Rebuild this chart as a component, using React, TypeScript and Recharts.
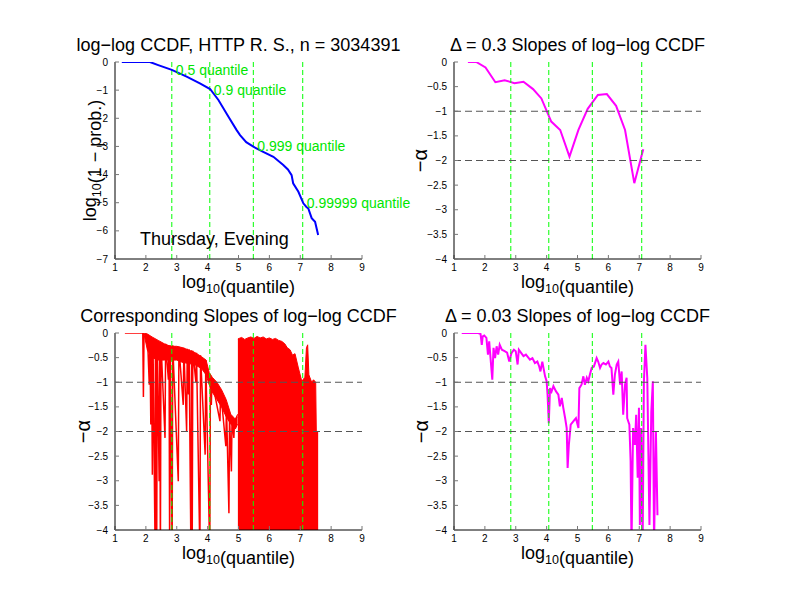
import { ComposedChart, Line, Area, XAxis, YAxis, ReferenceLine, ReferenceDot } from 'recharts';

const W = 792;
const H = 612;
const FONT = '"Liberation Sans", Arial, Helvetica, sans-serif';

const xTicks = [1, 2, 3, 4, 5, 6, 7, 8, 9];
const ccdfTicks = [0, -1, -2, -3, -4, -5, -6, -7];
const slopeTicks = [0, -0.5, -1, -1.5, -2, -2.5, -3, -3.5, -4];

// quantile markers (x = log10 of the quantile, y = log10(1 - p))
const quantileX = [2.84, 4.07, 5.48, 7.08];
const quantileY = [-0.3, -1, -3, -5];
const quantileNames = ['0.5 quantile', '0.9 quantile', '0.999 quantile', '0.99999 quantile'];
const alphaGuides = [-1, -2];

// log-log CCDF
const ccdf: [number, number][] = [
  [1.22, 0], [1.6, 0], [2.13, 0], [2.4, -0.11], [2.84, -0.28], [3.32, -0.52], [3.75, -0.76],
  [4.08, -0.96], [4.35, -1.35], [4.67, -1.94], [4.94, -2.42], [5.05, -2.6], [5.25, -2.85],
  [5.48, -3.01], [5.8, -3.19], [6.13, -3.37], [6.45, -3.66], [6.6, -3.82], [6.72, -4.02],
  [6.77, -4.31], [6.94, -4.61], [7.1, -5.02], [7.2, -5.15], [7.26, -5.2], [7.37, -5.55],
  [7.48, -5.68], [7.58, -6.15],
];

// delta = 0.3 slopes
const slopeCoarse: [number, number][] = [
  [1.45, 0], [1.72, 0], [2.02, -0.11], [2.34, -0.41], [2.64, -0.37], [2.96, -0.43], [3.25, -0.4],
  [3.56, -0.55], [3.83, -0.74], [4.15, -1.21], [4.44, -1.38], [4.74, -1.92], [5.03, -1.38],
  [5.33, -0.95], [5.66, -0.67], [5.95, -0.65], [6.25, -0.89], [6.54, -1.38], [6.84, -2.46],
  [7.13, -1.77],
];

// corresponding (point-wise) slopes: spikes, thick body, dense block
const slopeSpikes: [number, number][] = [
  [1.32, 0], [1.9, 0], [1.92, -1.3], [1.94, -0.02], [2.05, -0.05], [2.11, -1.05], [2.13, -0.1],
  [2.16, -1.86], [2.18, -0.1], [2.21, -2.88], [2.23, -0.12], [2.3, -4.5], [2.31, -0.15],
  [2.32, -1.93], [2.34, -0.15], [2.35, -4.5], [2.37, -0.18], [2.43, -3.01], [2.45, -0.2],
  [2.47, -4.5], [2.49, -0.2], [2.62, -2.13], [2.64, -0.22], [2.73, -0.95], [2.75, -0.25],
  [2.77, -4.5], [2.79, -0.25], [2.85, -4.5], [2.87, -0.25], [3.05, -3.01], [3.07, -0.28],
  [3.21, -1.46], [3.23, -0.3], [3.32, -2.0], [3.34, -0.32], [3.38, -1.25], [3.4, -0.33],
  [3.46, -4.5], [3.48, -0.35], [3.5, -4.5], [3.52, -0.36], [3.62, -1.0], [3.64, -0.4],
  [3.75, -4.5], [3.77, -0.45], [3.92, -2.47], [3.94, -0.55], [4.07, -4.5], [4.09, -0.85],
  [4.12, -1.46], [4.14, -0.95], [4.4, -1.79], [4.42, -1.15], [4.59, -2.3], [4.61, -1.45],
  [4.69, -3.66], [4.71, -1.7], [4.77, -2.81], [4.79, -1.75], [4.85, -2.13], [4.87, -1.8],
  [4.95, -1.7],
];
const slopeBody: [number, number, number][] = [
  [1.95, -0.05, 0], [2.05, -0.35, -0.02], [2.2, -0.5, -0.08], [2.4, -0.55, -0.15],
  [2.6, -0.55, -0.22], [2.8, -0.55, -0.27], [3.0, -0.55, -0.27], [3.2, -0.6, -0.3],
  [3.4, -0.62, -0.35], [3.6, -0.65, -0.4], [3.8, -0.72, -0.48], [3.95, -0.85, -0.55],
  [4.05, -1.05, -0.8], [4.15, -1.2, -0.9], [4.3, -1.35, -1.0], [4.45, -1.5, -1.15],
  [4.6, -1.7, -1.35], [4.75, -1.85, -1.65], [4.9, -1.95, -1.75], [4.97, -1.85, -1.65],
];
const slopeBlock: [number, number][] = [
  [4.98, -0.12], [5.1, -0.09], [5.2, -0.13], [5.3, -0.1], [5.4, -0.08], [5.5, -0.11],
  [5.6, -0.07], [5.7, -0.1], [5.8, -0.08], [5.9, -0.12], [6.0, -0.1], [6.1, -0.13],
  [6.2, -0.11], [6.3, -0.15], [6.4, -0.17], [6.5, -0.22], [6.58, -0.3], [6.67, -0.34],
  [6.75, -0.45], [6.83, -0.42], [6.94, -0.71], [7.05, -0.98], [7.15, -0.9], [7.2, -0.3],
  [7.24, -0.24], [7.28, -0.85], [7.37, -1.0], [7.43, -0.95], [7.5, -1.0], [7.52, -2.0],
  [7.58, -2.0],
];

// delta = 0.03 slopes
const slopeFine: [number, number][] = [
  [1.25, 0], [1.79, 0], [1.86, -0.02], [1.9, -0.24], [1.93, -0.07], [1.98, -0.05], [2.05, -0.1],
  [2.1, -0.44], [2.14, -0.17], [2.2, -0.64], [2.24, -0.95], [2.28, -0.3], [2.33, -0.51],
  [2.38, -0.27], [2.43, -0.44], [2.48, -0.24], [2.55, -0.34], [2.64, -0.37], [2.72, -0.4],
  [2.79, -0.58], [2.86, -0.41], [2.94, -0.34], [3.0, -0.37], [3.06, -0.64], [3.1, -0.34],
  [3.18, -0.41], [3.25, -0.47], [3.33, -0.44], [3.46, -0.54], [3.54, -0.51], [3.62, -0.61],
  [3.7, -0.58], [3.76, -0.68], [3.8, -0.78], [3.86, -0.58], [3.95, -0.88], [4.0, -0.98],
  [4.03, -1.25], [4.07, -1.83], [4.11, -1.12], [4.16, -1.19], [4.22, -1.08], [4.3, -1.18],
  [4.38, -1.25], [4.43, -1.49], [4.49, -1.32], [4.54, -1.52], [4.6, -1.73], [4.65, -1.93],
  [4.68, -2.74], [4.72, -2.27], [4.78, -1.86], [4.87, -1.79], [4.95, -1.73], [5.03, -1.93],
  [5.06, -1.12], [5.13, -1.05], [5.19, -0.88], [5.24, -1.05], [5.3, -0.91], [5.35, -0.98],
  [5.4, -0.85], [5.46, -0.71], [5.53, -0.68], [5.62, -0.51], [5.67, -0.58], [5.73, -0.71],
  [5.78, -0.64], [5.84, -0.61], [5.92, -0.64], [6.0, -0.58], [6.05, -0.68], [6.1, -0.71],
  [6.16, -1.25], [6.21, -0.85], [6.27, -0.64], [6.32, -0.58], [6.38, -1.05], [6.43, -0.78],
  [6.48, -1.66], [6.54, -1.05], [6.59, -0.91], [6.61, -1.73], [6.68, -1.86], [6.72, -2.6],
  [6.75, -4.3], [6.8, -1.93], [6.86, -2.27], [6.9, -1.66], [6.95, -2.94], [6.99, -1.52],
  [7.02, -3.9], [7.06, -1.93], [7.11, -4.3], [7.15, -1.0], [7.2, -0.24], [7.26, -0.91],
  [7.33, -3.9], [7.39, -1.6], [7.44, -0.98], [7.48, -4.3], [7.51, -3.0], [7.54, -2.0],
  [7.59, -3.7],
];

const pts = (a: [number, number][]) => a.map(([x, y]) => ({ x, y }));
const bandPts = (a: [number, number, number][]) => a.map(([x, lo, hi]) => ({ x, r: [lo, hi] }));
const blockPts = (a: [number, number][]) => a.map(([x, hi]) => ({ x, r: [-4.5, hi] }));

const minus = (v: number) => String(v).replace('-', '\u2212');
const tickStyle = { fontSize: 10, fill: '#000', fontFamily: FONT };

const PLOT_W = 247;
const PLOT_H = 197;

function Panel({ left, top, yDomain, yTicks, children }: any) {
  return (
    <ComposedChart
      width={W}
      height={H}
      style={{ position: 'absolute', left: 0, top: 0 }}
      margin={{ left: left - 40, top, right: W - left - PLOT_W, bottom: H - top - PLOT_H - 20 }}
    >
      <XAxis
        type="number"
        dataKey="x"
        domain={[1, 9]}
        ticks={xTicks}
        interval={0}
        allowDataOverflow
        height={20}
        tickSize={-4}
        tickMargin={9}
        axisLine={{ stroke: '#000' }}
        tickLine={{ stroke: '#777' }}
        tick={tickStyle}
      />
      <XAxis
        xAxisId="top"
        orientation="top"
        type="number"
        domain={[1, 9]}
        ticks={xTicks}
        interval={0}
        height={0}
        tickSize={-4}
        tickFormatter={() => ''}
        axisLine={{ stroke: '#000' }}
        tickLine={{ stroke: '#777' }}
      />
      <YAxis
        type="number"
        domain={yDomain}
        ticks={yTicks}
        interval={0}
        allowDataOverflow
        width={40}
        tickSize={-4}
        tickMargin={11}
        tickFormatter={minus}
        axisLine={{ stroke: '#000' }}
        tickLine={{ stroke: '#777' }}
        tick={tickStyle}
      />
      <YAxis
        yAxisId="right"
        orientation="right"
        type="number"
        domain={yDomain}
        ticks={yTicks}
        interval={0}
        width={0}
        tickSize={-4}
        tickFormatter={() => ''}
        axisLine={{ stroke: '#000' }}
        tickLine={{ stroke: '#777' }}
      />
      {children}
    </ComposedChart>
  );
}

const quantileLines = () =>
  quantileX.map((q) => (
    <ReferenceLine key={'q' + q} x={q} stroke="#00ff00" strokeDasharray="5 3" strokeWidth={1} />
  ));
const alphaLines = () =>
  alphaGuides.map((a) => (
    <ReferenceLine key={'a' + a} y={a} stroke="#555" strokeDasharray="7 4" strokeWidth={1} />
  ));

function Sub({ children }: any) {
  return (
    <>
      <tspan fontSize={12.5} dy={5}>{children}</tspan>
      <tspan dy={-5}></tspan>
    </>
  );
}

export default function App() {
  return (
    <div style={{ position: 'absolute', left: 0, top: 0, width: W, height: H, background: '#fff' }}>
      {/* top left: CCDF */}
      <Panel left={115} top={62} yDomain={[-7, 0]} yTicks={ccdfTicks}>
        {quantileLines()}
        <Line data={pts(ccdf)} dataKey="y" stroke="#0000ff" strokeWidth={2} dot={false} isAnimationActive={false} />
        {quantileX.map((q, i) => (
          <ReferenceDot
            key={'l' + q}
            x={q}
            y={quantileY[i]}
            r={0}
            fill="none"
            stroke="none"
            label={{ value: quantileNames[i], position: 'right', offset: 4, fill: '#00e600', fontSize: 14, fontFamily: FONT }}
          />
        ))}
      </Panel>

      {/* top right: delta 0.3 */}
      <Panel left={454} top={62} yDomain={[-4, 0]} yTicks={slopeTicks}>
        <Line data={pts(slopeCoarse)} dataKey="y" stroke="#ff00ff" strokeWidth={2} dot={false} isAnimationActive={false} />
        {quantileLines()}
        {alphaLines()}
      </Panel>

      {/* bottom left: corresponding slopes */}
      <Panel left={115} top={333} yDomain={[-4, 0]} yTicks={slopeTicks}>
        <Area data={bandPts(slopeBody)} dataKey="r" stroke="#ff0000" strokeWidth={1} fill="#ff0000" fillOpacity={1} isAnimationActive={false} />
        <Area data={blockPts(slopeBlock)} dataKey="r" stroke="#ff0000" strokeWidth={1} fill="#ff0000" fillOpacity={1} isAnimationActive={false} />
        <Line data={pts(slopeSpikes)} dataKey="y" stroke="#ff0000" strokeWidth={1.5} dot={false} isAnimationActive={false} />
        {quantileLines()}
        {alphaLines()}
      </Panel>

      {/* bottom right: delta 0.03 */}
      <Panel left={454} top={333} yDomain={[-4, 0]} yTicks={slopeTicks}>
        <Line data={pts(slopeFine)} dataKey="y" stroke="#ff00ff" strokeWidth={2} dot={false} isAnimationActive={false} />
        {quantileLines()}
        {alphaLines()}
      </Panel>

      <svg width={W} height={H} style={{ position: 'absolute', left: 0, top: 0, pointerEvents: 'none' }} fontFamily={FONT}>
        <text x={238.5} y={51} textAnchor="middle" fontSize={18}>log−log CCDF, HTTP R. S., n = 3034391</text>
        <text x={577.5} y={51} textAnchor="middle" fontSize={18}>Δ = 0.3 Slopes of log−log CCDF</text>
        <text x={238.5} y={322} textAnchor="middle" fontSize={18}>Corresponding Slopes of log−log CCDF</text>
        <text x={577.5} y={322} textAnchor="middle" fontSize={18}>Δ = 0.03 Slopes of log−log CCDF</text>

        {[
          [238.5, 288],
          [577.5, 288],
          [238.5, 559],
          [577.5, 559],
        ].map(([x, y]) => (
          <text key={x + '-' + y} x={x} y={y} textAnchor="middle" fontSize={18}>
            log<Sub>10</Sub>(quantile)
          </text>
        ))}

        <text transform="translate(96,160.5) rotate(-90)" textAnchor="middle" fontSize={18}>
          log<Sub>10</Sub>(1 − prob.)
        </text>
        <text transform="translate(427,160.5) rotate(-90)" textAnchor="middle" fontSize={20}>−α</text>
        <text transform="translate(90,431.5) rotate(-90)" textAnchor="middle" fontSize={20}>−α</text>
        <text transform="translate(428,431.5) rotate(-90)" textAnchor="middle" fontSize={20}>−α</text>

        <text x={140} y={245} fontSize={18}>Thursday, Evening</text>
      </svg>
    </div>
  );
}
